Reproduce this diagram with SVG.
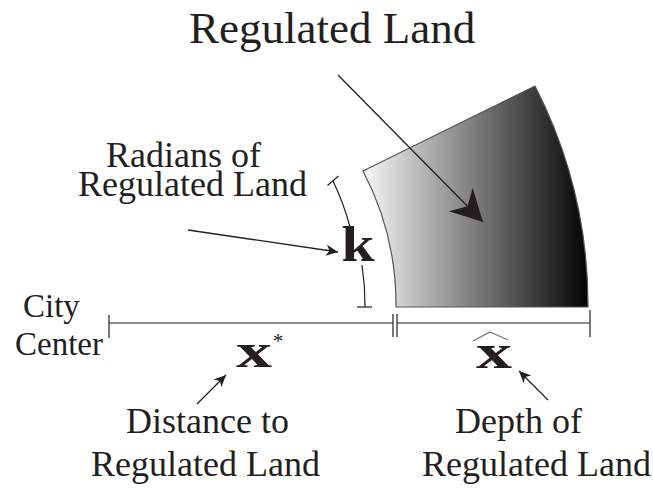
<svg xmlns="http://www.w3.org/2000/svg" width="653" height="493" viewBox="0 0 653 493">
<style>
.t{font-family:"Liberation Serif","Times New Roman",serif;fill:#231f20}
.ln{stroke:#231f20;stroke-width:1.3;fill:none}
.dim{stroke:#231f20;stroke-width:1.2;fill:none}
</style>
<defs>
<linearGradient id="g" gradientUnits="userSpaceOnUse" x1="363" y1="0" x2="590" y2="0">
<stop offset="0" stop-color="#f7f7f7"/>
<stop offset="0.5" stop-color="#7a7a7a"/>
<stop offset="1" stop-color="#000"/>
</linearGradient>
<marker id="ah" markerUnits="userSpaceOnUse" viewBox="-13 -6 14 12" refX="0" refY="0" markerWidth="14" markerHeight="12" orient="auto">
<path d="M0,0 L-12,-5.5 L-8.5,0 L-12,5.5 Z" fill="#231f20"/>
</marker>
<marker id="big" markerUnits="userSpaceOnUse" viewBox="-33 -18 34 36" refX="0" refY="0" markerWidth="34" markerHeight="36" orient="auto">
<path d="M0,0 L-31.5,-16.6 L-22,0 L-31.5,16.6 Z" fill="#231f20"/>
</marker>
</defs>
<g id="region">
<path d="M396,307 L588,307 A480,480 0 0 0 535,86 L363,171 A288,288 0 0 1 396,307 Z" fill="url(#g)" stroke="#555" stroke-width="1.2"/>
</g>
<g id="title"><text class="t" x="189" y="43" font-size="45">Regulated Land</text></g>
<g id="radians"><text class="t" x="106" y="167" font-size="36">Radians of</text><text class="t" x="78" y="196" font-size="36">Regulated Land</text></g>
<g id="k"><text class="t" transform="translate(358,261) scale(1.2,1)" text-anchor="middle" font-size="50" font-weight="bold">k</text></g>
<g id="city"><text class="t" x="23" y="317" font-size="33">City</text><text class="t" x="15" y="355" font-size="33">Center</text></g>
<g id="xstar"><text class="t" transform="translate(254,367) scale(1.5,1)" text-anchor="middle" font-size="48" font-weight="bold">x</text><text class="t" x="278" y="348" text-anchor="middle" font-size="21">*</text></g>
<g id="xhat"><text class="t" transform="translate(494,368) scale(1.5,1)" text-anchor="middle" font-size="48" font-weight="bold">x</text><polyline points="473,341 490,332 508,340" fill="none" stroke="#777" stroke-width="1.3"/></g>
<g id="distance"><text class="t" x="126" y="433" font-size="36">Distance to</text><text class="t" x="91" y="476" font-size="36">Regulated Land</text></g>
<g id="depth"><text class="t" x="455" y="433" font-size="36">Depth of</text><text class="t" x="422" y="476" font-size="36">Regulated Land</text></g>
<g id="connectors">
<line class="ln" x1="338" y1="75" x2="483" y2="222" marker-end="url(#big)"/>
<line class="ln" x1="188" y1="230" x2="338" y2="252" marker-end="url(#ah)"/>
<line class="ln" x1="197" y1="404" x2="226" y2="375" marker-end="url(#ah)"/>
<line class="ln" x1="548" y1="400" x2="519" y2="371" marker-end="url(#ah)"/>
<path class="dim" d="M333,181 A257,257 0 0 1 350,227"/>
<path class="dim" d="M362,265 A257,257 0 0 1 365,307"/>
<line class="dim" x1="327.5" y1="185.5" x2="338.5" y2="176"/>
<line class="dim" x1="357" y1="307" x2="372" y2="307"/>
<line class="dim" x1="109" y1="323" x2="393" y2="323"/>
<line class="dim" x1="109" y1="315" x2="109" y2="338"/>
<line class="dim" x1="393" y1="314" x2="393" y2="337"/>
<line class="dim" x1="397" y1="323" x2="590" y2="323"/>
<line class="dim" x1="397" y1="314" x2="397" y2="337"/>
<line class="dim" x1="590" y1="310" x2="590" y2="337"/>
</g>
</svg>
